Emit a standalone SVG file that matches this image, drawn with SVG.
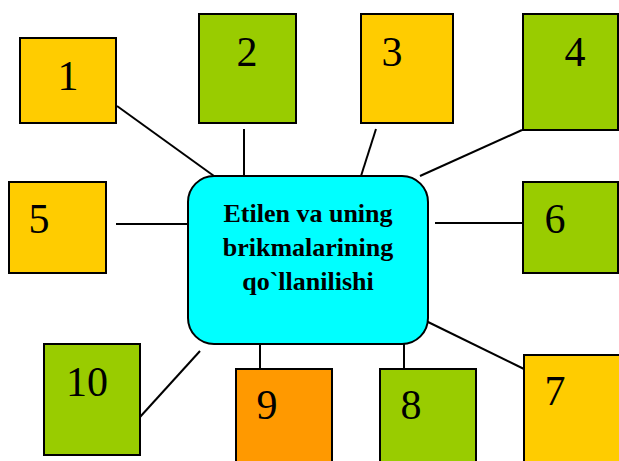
<svg xmlns="http://www.w3.org/2000/svg" width="619" height="461" viewBox="0 0 619 461">
<style>
.b{stroke:#000;stroke-width:2}
.y{fill:#FFCC00}.g{fill:#99CC00}.o{fill:#FF9900}
.n{font-family:"Liberation Serif","Times New Roman",serif;font-size:42px;fill:#000;text-anchor:middle}
.c{font-family:"Liberation Serif","Times New Roman",serif;font-size:26px;font-weight:bold;fill:#000;text-anchor:middle}
#edges line{stroke:#000;stroke-width:2}
</style>
<rect width="619" height="461" fill="#fff"/>
<g id="edges">
<line x1="117" y1="106" x2="214" y2="176"/>
<line x1="244" y1="129" x2="244" y2="176"/>
<line x1="376" y1="129" x2="361" y2="176"/>
<line x1="522" y1="130" x2="420" y2="176"/>
<line x1="116" y1="224" x2="188" y2="224"/>
<line x1="435" y1="223" x2="523" y2="223"/>
<line x1="426" y1="321" x2="524" y2="369"/>
<line x1="404" y1="344" x2="404" y2="369"/>
<line x1="260" y1="344" x2="260" y2="369"/>
<line x1="140" y1="417" x2="200" y2="351"/>
</g>
<g id="center">
<rect class="b" x="188" y="176" width="240" height="168" rx="26" fill="#00FFFF"/>
<text class="c" x="308" y="222">Etilen va uning</text>
<text class="c" x="308" y="256">brikmalarining</text>
<text class="c" x="308" y="290">qo`llanilishi</text>
</g>
<g id="n1"><rect class="b y" x="20" y="38" width="96" height="85"/><text class="n" x="68" y="90">1</text></g>
<g id="n2"><rect class="b g" x="199" y="14" width="97" height="109"/><text class="n" x="247" y="66">2</text></g>
<g id="n3"><rect class="b y" x="361" y="14" width="92" height="109"/><text class="n" x="392" y="66">3</text></g>
<g id="n4"><rect class="b g" x="523" y="14" width="95" height="116"/><text class="n" x="575" y="66">4</text></g>
<g id="n5"><rect class="b y" x="9" y="182" width="97" height="91"/><text class="n" x="39" y="233">5</text></g>
<g id="n6"><rect class="b g" x="523" y="182" width="95" height="91"/><text class="n" x="555" y="233">6</text></g>
<g id="n7"><rect class="b y" x="524" y="355" width="96" height="110"/><text class="n" x="555" y="405">7</text></g>
<g id="n8"><rect class="b g" x="380" y="369" width="96" height="96"/><text class="n" x="411" y="419">8</text></g>
<g id="n9"><rect class="b o" x="236" y="369" width="96" height="96"/><text class="n" x="267" y="419">9</text></g>
<g id="n10"><rect class="b g" x="44" y="344" width="96" height="111"/><text class="n" x="87" y="396">10</text></g>
</svg>
